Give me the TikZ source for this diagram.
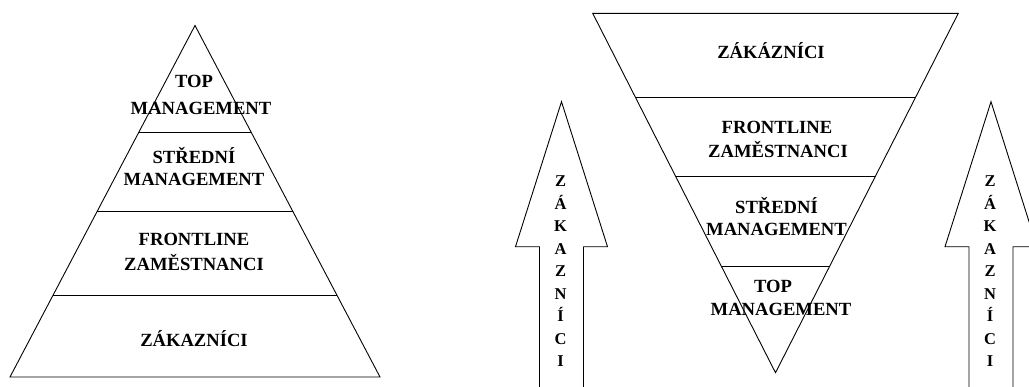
\documentclass[tikz,border=0pt]{standalone}
\usepackage{fontspec}
\setmainfont{Liberation Serif}
\usetikzlibrary{calc}
\tikzset{
  edge/.style={draw=black, line width=0.9pt, line join=miter},
  lbl/.style={font=\fontsize{18.6pt}{22pt}\selectfont\bfseries, anchor=base, inner sep=0pt, text=black},
  vlbl/.style={font=\fontsize{16.5pt}{22.5pt}\selectfont\bfseries, align=center, anchor=north, inner sep=0pt, text=black},
  arrowbox/.style={draw=black, fill=white, line width=0.9pt, line join=miter}
}
\begin{document}
\begin{tikzpicture}[x=1pt,y=-1pt]
\useasboundingbox (0,0) rectangle (1029,386);
\fill[white] (0,0) rectangle (1029,386);
\clip (0,0) rectangle (1029,386);

% ---------- left pyramid ----------
\coordinate (LA) at (195,25.5);
\coordinate (LL) at (10,377);
\coordinate (LR) at (380,377);
\draw[edge] (LA) -- (LL) -- (LR) -- cycle;
\coordinate (l1a) at ($(LA)!0.303!(LL)$);  \coordinate (l1b) at ($(LA)!0.303!(LR)$);
\coordinate (l2a) at ($(LA)!0.5277!(LL)$); \coordinate (l2b) at ($(LA)!0.5277!(LR)$);
\coordinate (l3a) at ($(LA)!0.7667!(LL)$); \coordinate (l3b) at ($(LA)!0.7667!(LR)$);
\draw[edge] (l1a) -- (l1b);
\draw[edge] (l2a) -- (l2b);
\draw[edge] (l3a) -- (l3b);

\node[lbl] (ltop1) at (194,87) {TOP};
\node[lbl] (ltop2) at (201,114) {MANAGEMENT};
\node[lbl] (lmid1) at (194,163) {STŘEDNÍ};
\node[lbl] (lmid2) at (194,185) {MANAGEMENT};
\node[lbl] (lfr1) at (194,245) {FRONTLINE};
\node[lbl] (lfr2) at (194,270) {ZAMĚSTNANCI};
\node[lbl] (lzak) at (194,346.5) {ZÁKAZNÍCI};

% ---------- inverted pyramid ----------
\coordinate (RA) at (775.5,372.7);
\coordinate (RL) at (592.7,13.3);
\coordinate (RR) at (958.3,13.3);
\draw[edge] (RA) -- (RL) -- (RR) -- cycle;
\coordinate (r1a) at ($(RA)!0.7652!(RL)$); \coordinate (r1b) at ($(RA)!0.7652!(RR)$);
\coordinate (r2a) at ($(RA)!0.5454!(RL)$); \coordinate (r2b) at ($(RA)!0.5454!(RR)$);
\coordinate (r3a) at ($(RA)!0.2969!(RL)$); \coordinate (r3b) at ($(RA)!0.2969!(RR)$);
\draw[edge] (r1a) -- (r1b);
\draw[edge] (r2a) -- (r2b);
\draw[edge] (r3a) -- (r3b);

\node[lbl] (rzak) at (771,58) {ZÁKÁZNÍCI};
\node[lbl] (rfr1) at (777,133) {FRONTLINE};
\node[lbl] (rfr2) at (778,157) {ZAMĚSTNANCI};
\node[lbl] (rmid1) at (776.5,213) {STŘEDNÍ};
\node[lbl] (rmid2) at (776.5,235) {MANAGEMENT};
\node[lbl] (rtop1) at (773,292) {TOP};
\node[lbl] (rtop2) at (781,315) {MANAGEMENT};

% ---------- arrows ----------
\draw[arrowbox] (539.5,392) -- (539.5,246.7) -- (515.5,246.7) -- (561.5,101.7)
   -- (607.5,246.7) -- (583.5,246.7) -- (583.5,392);
\node[vlbl] (aleft) at (560.5,175.5) {Z\\Á\\K\\A\\Z\\N\\Í\\C\\I};

\draw[arrowbox] (969,392) -- (969,246.7) -- (945,246.7) -- (991,101.7)
   -- (1037,246.7) -- (1013,246.7) -- (1013,392);
\node[vlbl] (aright) at (990,175.5) {Z\\Á\\K\\A\\Z\\N\\Í\\C\\I};
\end{tikzpicture}
\end{document}
